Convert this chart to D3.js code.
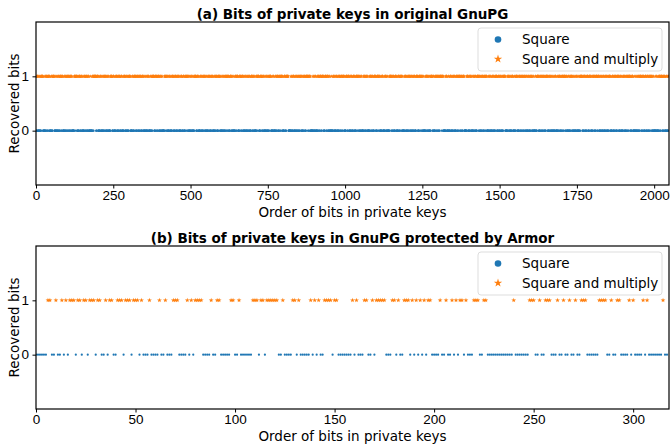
<!DOCTYPE html>
<meta charset="utf-8" />
<title>Bits of private keys</title>
<style>
  body { margin: 0; background: #fff; }
  svg { display: block; font-family: "DejaVu Sans", sans-serif; }
  .tick text { font-size: 13.5px; fill: #000; }
  .tick line { stroke: #000; }
  .domain { display: none; }
</style>
<body>
<svg width="671" height="445"></svg>
<script src="https://d3js.org/d3.v7.min.js"></script>
<script>
  // (a) 2048-bit key from original GnuPG, as hex (estimated, not readable bit by bit)
  const gnupgKeyHex = [
    "9c4a7e21b5d863f0a2c79e14d6b3580f7a2e9c16b4d0835fe7a1c92b64d07e38",
    "5d2b8e0f4a97c163e5b2d8f0a46c197e3b5d2a80f6c4e1793a5d0b8e2f6c4a91",
    "7e3c1a95d28b64f0c7a3e9152b6d8f4a0e7c3b9d1526a8f4e0b7c3d9a1526f84",
    "c29e5b7a1d3f8064e2a9c7b15d3f6e80a4c2b9e7d1f3a5086c4e2b9d7a1f3c56",
    "3a8f6d2c0e9b4175a3d8f6c2e0b9417d5a3c8e6f20b94d71a5c3e8f6d20b9a47",
    "e61b9d3f7a05c28e4b61d9f3a7c05e2b84d61f9a3c75e0b28d46f1a9c37e05b2",
    "4f0a7c2e9d5b3168f4a0c7e2d9b53f16a8c4e0d72b9f5a316e8c4d0a7f2b95e3",
    "d87b2f5e1c9a364bd0e8f27c5a1d936be4f08a2c7d5b1e396f4a08c2e7d5b193"
  ];

  // (b) recovered bits with Armor: positions that came out as 1, rest are 0
  const armorLength = 318;
  const armorOnes = [
    6, 7, 10, 13, 15, 17, 18, 19, 21, 22, 24, 25, 27, 28, 29, 31, 32, 35, 37, 38,
    41, 42, 43, 45, 46, 47, 49, 50, 51, 53, 57, 62, 65, 69, 70, 71, 76, 78, 80, 81,
    82, 83, 88, 91, 92, 98, 99, 102, 109, 110, 111, 113, 114, 116, 117, 118, 119,
    120, 121, 124, 129, 130, 132, 138, 140, 142, 145, 146, 147, 148, 150, 151, 159,
    161, 165, 166, 169, 171, 172, 173, 174, 175, 179, 180, 182, 185, 186, 187, 189,
    191, 193, 195, 197, 198, 203, 206, 209, 211, 213, 214, 216, 220, 221, 222, 225,
    226, 240, 248, 249, 250, 253, 256, 257, 258, 262, 265, 268, 271, 274, 275, 276,
    283, 284, 285, 286, 289, 292, 293, 298, 300, 305, 307, 315
  ];

  const seriesNames = ["Square", "Square and multiply"];
  const titles = [
    "(a) Bits of private keys in original GnuPG",
    "(b) Bits of private keys in GnuPG protected by Armor"
  ];
  const xTicksA = [0, 250, 500, 750, 1000, 1250, 1500, 1750, 2000];
  const xTicksB = [0, 50, 100, 150, 200, 250, 300];
  const yTicks = [0, 1];

  const blue = "#1f77b4", orange = "#ff7f0e";

  // turn the data into {i, bit} lists
  const bitsA = [];
  gnupgKeyHex.join("").split("").forEach(h => {
    const v = parseInt(h, 16);
    for (let k = 3; k >= 0; k--) bitsA.push((v >> k) & 1);
  });
  const onesSet = new Set(armorOnes);
  const bitsB = d3.range(armorLength).map(i => onesSet.has(i) ? 1 : 0);

  const svg = d3.select("svg");
  svg.append("rect").attr("width", 671).attr("height", 445).attr("fill", "#fff");

  const panels = [
    { bits: bitsA, xmax: 2048, ticks: xTicksA, top: 22, bottom: 185, title: titles[0], r: 1.2, star: 5 },
    { bits: bitsB, xmax: 318, ticks: xTicksB, top: 246, bottom: 409, title: titles[1], r: 1.1, star: 7 }
  ];
  const left = 36, right = 669;

  panels.forEach((p, pi) => {
    const x = d3.scaleLinear().domain([0, p.xmax]).range([left, right]);
    const y = d3.scaleLinear().domain([-1, 2]).range([p.bottom, p.top]);
    const g = svg.append("g");
    const clipId = "clip" + pi;
    svg.append("clipPath").attr("id", clipId)
      .append("rect").attr("x", left).attr("y", p.top)
      .attr("width", right - left).attr("height", p.bottom - p.top);

    const pts = p.bits.map((b, i) => ({ i, b }));
    const plot = g.append("g").attr("clip-path", `url(#${clipId})`);

    plot.selectAll("circle.sq")
      .data(pts.filter(d => d.b === 0))
      .enter().append("circle")
      .attr("class", "sq")
      .attr("cx", d => x(d.i))
      .attr("cy", y(0))
      .attr("r", p.r)
      .attr("fill", blue);

    const star = d3.symbol().type(d3.symbolStar).size(p.star);
    plot.selectAll("path.sm")
      .data(pts.filter(d => d.b === 1))
      .enter().append("path")
      .attr("class", "sm")
      .attr("d", star)
      .attr("transform", d => `translate(${x(d.i)},${y(1)})`)
      .attr("fill", orange);

    // axes
    g.append("g")
      .attr("transform", `translate(0,${p.bottom})`)
      .call(d3.axisBottom(x).tickValues(p.ticks).tickSize(3.5).tickPadding(1.5).tickFormat(d3.format("d")));
    g.append("g")
      .attr("transform", `translate(${left},0)`)
      .call(d3.axisLeft(y).tickValues(yTicks).tickSize(3.5).tickPadding(3.5).tickFormat(d3.format("d")));

    g.append("rect")
      .attr("x", left).attr("y", p.top)
      .attr("width", right - left).attr("height", p.bottom - p.top)
      .attr("fill", "none").attr("stroke", "#000").attr("stroke-width", 1.2);

    g.append("text")
      .attr("x", (left + right) / 2).attr("y", p.top - 3.5)
      .attr("text-anchor", "middle")
      .style("font-size", "13.5px").style("font-weight", "bold")
      .text(p.title);

    g.append("text")
      .attr("x", (left + right) / 2).attr("y", p.bottom + 31.5)
      .attr("text-anchor", "middle")
      .style("font-size", "13.5px")
      .text("Order of bits in private keys");

    g.append("text")
      .attr("transform", `translate(19,${(p.top + p.bottom) / 2}) rotate(-90)`)
      .attr("text-anchor", "middle")
      .style("font-size", "13.5px")
      .text("Recovered bits");

    // legend
    const lg = g.append("g").attr("transform", `translate(478,${p.top + 6})`);
    lg.append("rect")
      .attr("width", 184).attr("height", 43).attr("rx", 3)
      .attr("fill", "#fff").attr("fill-opacity", 0.8)
      .attr("stroke", "#ddd");
    seriesNames.forEach((name, k) => {
      const cy = 11.5 + k * 19.5;
      if (k === 0) {
        lg.append("circle").attr("cx", 20).attr("cy", cy).attr("r", 3.3).attr("fill", blue);
      } else {
        lg.append("path")
          .attr("d", d3.symbol().type(d3.symbolStar).size(22))
          .attr("transform", `translate(20,${cy})`)
          .attr("fill", orange);
      }
      lg.append("text")
        .attr("x", 44).attr("y", cy).attr("dy", "0.35em")
        .style("font-size", "13.5px")
        .text(name);
    });
  });
</script>
</body>
